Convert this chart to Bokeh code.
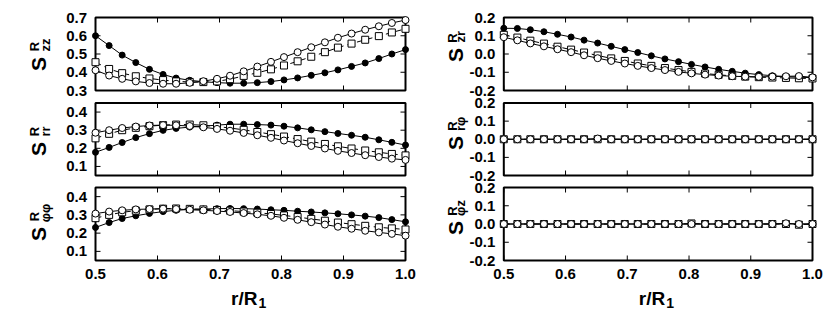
from math import pi
from bokeh.plotting import figure
from bokeh.models import Range1d, Label
from bokeh.core.properties import value
from bokeh.embed import file_html
from bokeh.resources import INLINE

# ---------------- data ----------------
r = [0.500, 0.522, 0.543, 0.565, 0.587, 0.609, 0.630, 0.652, 0.674, 0.696, 0.717, 0.739,
     0.761, 0.783, 0.804, 0.826, 0.848, 0.870, 0.891, 0.913, 0.935, 0.957, 0.978, 1.000]

x_ticks = [0.5, 0.6, 0.7, 0.8, 0.9, 1.0]

# S_zz
szz_filled = [0.600, 0.546, 0.494, 0.453, 0.416, 0.388, 0.368, 0.356, 0.348, 0.343, 0.340, 0.340,
              0.343, 0.349, 0.358, 0.369, 0.383, 0.397, 0.413, 0.432, 0.451, 0.475, 0.500, 0.524]
szz_open = [0.411, 0.382, 0.364, 0.350, 0.341, 0.337, 0.337, 0.342, 0.351, 0.364, 0.381, 0.405,
            0.431, 0.457, 0.483, 0.510, 0.537, 0.564, 0.589, 0.612, 0.633, 0.652, 0.670, 0.686]
szz_square = [0.455, 0.418, 0.395, 0.378, 0.366, 0.357, 0.350, 0.347, 0.346, 0.350, 0.362, 0.380,
              0.397, 0.416, 0.437, 0.460, 0.485, 0.510, 0.535, 0.557, 0.578, 0.598, 0.618, 0.638]
szz_ticks = [0.3, 0.4, 0.5, 0.6, 0.7]

# S_rr
srr_filled = [0.178, 0.205, 0.232, 0.259, 0.281, 0.299, 0.310, 0.317, 0.322, 0.328, 0.333, 0.333,
              0.331, 0.328, 0.322, 0.313, 0.302, 0.292, 0.282, 0.272, 0.261, 0.247, 0.233, 0.218]
srr_open = [0.286, 0.300, 0.312, 0.320, 0.326, 0.328, 0.327, 0.323, 0.316, 0.307, 0.297, 0.285,
            0.272, 0.258, 0.243, 0.228, 0.213, 0.199, 0.186, 0.174, 0.162, 0.152, 0.143, 0.136]
srr_square = [0.255, 0.280, 0.300, 0.313, 0.322, 0.328, 0.331, 0.331, 0.327, 0.320, 0.312, 0.302,
              0.290, 0.278, 0.265, 0.251, 0.237, 0.224, 0.211, 0.199, 0.188, 0.178, 0.169, 0.161]
srr_ticks = [0.1, 0.2, 0.3, 0.4]

# S_phiphi
spp_filled = [0.231, 0.258, 0.280, 0.295, 0.308, 0.318, 0.325, 0.330, 0.332, 0.334, 0.335, 0.334,
              0.332, 0.328, 0.325, 0.320, 0.316, 0.311, 0.306, 0.300, 0.293, 0.285, 0.274, 0.262]
spp_open = [0.307, 0.318, 0.325, 0.330, 0.332, 0.334, 0.332, 0.328, 0.325, 0.321, 0.316, 0.310,
            0.303, 0.295, 0.284, 0.273, 0.260, 0.247, 0.235, 0.224, 0.213, 0.204, 0.196, 0.186]
spp_square = [0.282, 0.300, 0.314, 0.323, 0.330, 0.334, 0.335, 0.333, 0.330, 0.327, 0.323, 0.318,
              0.312, 0.305, 0.297, 0.288, 0.278, 0.268, 0.258, 0.249, 0.240, 0.232, 0.226, 0.220]
spp_ticks = [0.1, 0.2, 0.3, 0.4]

# S_zr
szr_filled = [0.141, 0.140, 0.133, 0.122, 0.108, 0.093, 0.076, 0.060, 0.042, 0.024, 0.008, -0.010,
              -0.027, -0.042, -0.057, -0.071, -0.084, -0.095, -0.105, -0.113, -0.119, -0.124, -0.127, -0.130]
szr_open = [0.092, 0.075, 0.058, 0.042, 0.026, 0.010, -0.007, -0.023, -0.038, -0.052, -0.065, -0.077,
            -0.088, -0.098, -0.106, -0.113, -0.118, -0.122, -0.124, -0.125, -0.124, -0.122, -0.121, -0.128]
szr_square = [0.105, 0.090, 0.073, 0.057, 0.040, 0.024, 0.008, -0.008, -0.024, -0.038, -0.052, -0.065,
              -0.077, -0.088, -0.098, -0.107, -0.114, -0.120, -0.124, -0.127, -0.129, -0.131, -0.133, -0.134]

# S_rphi
srp_filled = [0.0, 0.0, 0.0, 0.0, 0.0, 0.0, 0.0, 0.0, 0.0, 0.0, 0.0, 0.0,
              0.0, 0.0, 0.0, 0.0, 0.0, 0.0, 0.0, 0.0, 0.0, 0.0, 0.0, 0.0]
srp_open = [0.0, 0.0, 0.0, 0.0, 0.0, 0.0, 0.0, 0.004, 0.0, 0.0, 0.0, 0.0,
            0.0, 0.0, 0.0, 0.0, 0.0, 0.0, 0.0, 0.0, 0.0, 0.0, 0.0, 0.0]
srp_square = [0.0, 0.0, 0.0, 0.0, 0.0, 0.0, 0.0, 0.0, 0.0, 0.0, 0.0, 0.0,
              0.0, 0.0, 0.0, 0.0, 0.0, 0.0, 0.0, 0.0, 0.0, 0.0, 0.0, 0.0]

# S_phiz
spz_filled = [0.0, 0.0, 0.0, 0.0, 0.0, 0.0, 0.0, 0.0, 0.0, 0.0, 0.0, 0.0,
              0.0, 0.0, 0.0, 0.0, 0.0, 0.0, 0.0, 0.0, 0.0, 0.0, 0.0, 0.0]
spz_open = [0.0, 0.0, 0.0, 0.0, 0.0, 0.0, 0.0, 0.0, 0.0, 0.0, 0.0, 0.0,
            0.0, 0.0, 0.0, 0.0, 0.0, 0.0, 0.0, 0.0, 0.0, 0.004, 0.0, 0.0]
spz_square = [0.0, 0.0, 0.0, 0.0, 0.0, 0.0, 0.0, 0.0, 0.0, 0.0, 0.0, 0.0,
              0.0, 0.0, 0.003, 0.0, 0.0, 0.0, 0.0, 0.0, 0.0, 0.0, -0.004, 0.0]

off_ticks = [-0.2, -0.1, 0.0, 0.1, 0.2]

left_subs = ["zz", "rr", "φφ"]
right_subs = ["zr", "rφ", "φz"]
x_label_main = "r/R"
x_label_sub = "1"

FONT = "Liberation Sans"

# ---------------- layout (page pixels) ----------------
W, H = 830, 311
COL_FRAMES = [(95.0, 405.0), (503.3, 812.0)]          # left / right edges of panel frames
ROW_FRAMES = [(17.0, 90.0), (102.5, 175.0), (187.0, 260.0)]  # top / bottom edges
X_RANGE = (0.5, 1.0)
TICK_LBL_GAP = 8.5
XTICK_LBL_TOP = 268.0
XLABEL_BASE = 298.0
XLABEL_SUB_BASE = 302.0
# rotated y-label pieces (centres, page px)
LBL_POS = [dict(S_x=37.5, R_x=34.0, sub_x=44.5,
                S_y=[63.5, 148.5, 233.5], R_y=[46.0, 131.0, 216.0], sub_y=[44.5, 131.0, 212.5]),
           dict(S_x=455.0, R_x=451.5, sub_x=460.0,
                S_y=[54.5, 142.5, 227.5], R_y=[37.5, 125.5, 210.5], sub_y=[36.2, 123.3, 207.5])]

p = figure(width=W, height=H, output_backend="svg", toolbar_location=None,
           x_range=Range1d(0, W), y_range=Range1d(0, H),
           x_axis_location=None, y_axis_location=None, min_border=0)
p.xgrid.visible = False
p.ygrid.visible = False
p.outline_line_color = None
p.background_fill_color = "white"
p.border_fill_color = "white"

extra_x = {}
for ci, (xl, xr) in enumerate(COL_FRAMES):
    s = (X_RANGE[1] - X_RANGE[0]) / (xr - xl)
    extra_x["c%d" % ci] = Range1d(X_RANGE[0] - xl * s, X_RANGE[1] + (W - xr) * s)
p.extra_x_ranges = extra_x

panels = [
    (0, 0, szz_filled, szz_open, szz_square, (0.3, 0.7), szz_ticks),
    (0, 1, srr_filled, srr_open, srr_square, (0.05, 0.45), srr_ticks),
    (0, 2, spp_filled, spp_open, spp_square, (0.05, 0.45), spp_ticks),
    (1, 0, szr_filled, szr_open, szr_square, (-0.2, 0.2), off_ticks),
    (1, 1, srp_filled, srp_open, srp_square, (-0.2, 0.2), off_ticks),
    (1, 2, spz_filled, spz_open, spz_square, (-0.2, 0.2), off_ticks),
]

extra_y = {}
for ci, ri, _, _, _, (lo, hi), _ in panels:
    top, bot = ROW_FRAMES[ri]
    s = (hi - lo) / (bot - top)
    extra_y["p%d%d" % (ci, ri)] = Range1d(lo - (H - bot) * s, hi + top * s)
p.extra_y_ranges = extra_y

TXT = dict(text_font=value(FONT), text_font_style=value("bold"), text_color="black")

for ci, ri, filled, opn, square, (lo, hi), yticks in panels:
    xn = "c%d" % ci
    yn = "p%d%d" % (ci, ri)
    kw = dict(x_range_name=xn, y_range_name=yn)

    # frame
    p.quad(left=[X_RANGE[0]], right=[X_RANGE[1]], bottom=[lo], top=[hi], fill_color=None,
           line_color="black", line_width=2, **kw)
    # inner ticks on all four sides
    nx, ny = len(x_ticks), len(yticks)
    p.ray(x=x_ticks, y=[lo] * nx, length=5, length_units="screen", angle=pi / 2,
          line_color="black", line_width=1, **kw)
    p.ray(x=x_ticks, y=[hi] * nx, length=5, length_units="screen", angle=-pi / 2,
          line_color="black", line_width=1, **kw)
    p.ray(x=[X_RANGE[0]] * ny, y=yticks, length=5, length_units="screen", angle=0,
          line_color="black", line_width=1, **kw)
    p.ray(x=[X_RANGE[1]] * ny, y=yticks, length=5, length_units="screen", angle=pi,
          line_color="black", line_width=1, **kw)

    # y tick labels
    xl = COL_FRAMES[ci][0] - TICK_LBL_GAP
    p.text(x=[xl] * ny, y=yticks, text=["%.1f" % t for t in yticks], y_range_name=yn,
           text_align="right", text_baseline="middle", text_font_size=value("15px"), **TXT)
    # x tick labels (bottom row)
    if ri == 2:
        p.text(x=x_ticks, y=[H - XTICK_LBL_TOP] * nx, text=["%.1f" % t for t in x_ticks],
               x_range_name=xn, text_align="center", text_baseline="top",
               text_font_size=value("15px"), **TXT)

    # data: filled circles, dashed open squares, open circles
    p.line(r, filled, line_color="black", line_width=1, **kw)
    p.scatter(r, filled, marker="circle", size=6, fill_color="black", line_color="black", **kw)
    p.line(r, square, line_color="black", line_width=1, line_dash="6 4", **kw)
    p.scatter(r, square, marker="square", size=7, fill_color="white", line_color="black",
              line_width=1, **kw)
    p.line(r, opn, line_color="black", line_width=1, **kw)
    p.scatter(r, opn, marker="circle", size=7, fill_color="white", line_color="black",
              line_width=1, **kw)


def label(x, y, s, size, angle=0.0, align="left", baseline="alphabetic"):
    p.add_layout(Label(x=x, y=y, text=s, angle=angle, text_font=FONT, text_font_style="bold",
                       text_font_size=size, text_align=align, text_baseline=baseline,
                       text_color="black"))


# y-axis labels  S^R_xx
for ci, subs in enumerate([left_subs, right_subs]):
    pos = LBL_POS[ci]
    for i, sub in enumerate(subs):
        label(pos["S_x"], H - pos["S_y"][i], "S", "21px", pi / 2, "center", "middle")
        label(pos["R_x"], H - pos["R_y"][i], "R", "13px", pi / 2, "center", "middle")
        label(pos["sub_x"], H - pos["sub_y"][i], sub, "13px", pi / 2, "center", "middle")

# x-axis labels  r/R_1
for xl, xr in COL_FRAMES:
    xc = (xl + xr) / 2.0
    label(xc + 7, H - XLABEL_BASE, x_label_main, "19px", align="right")
    label(xc + 8, H - XLABEL_SUB_BASE, x_label_sub, "14px", align="left")

open("out.html", "w").write(file_html(p, INLINE))
